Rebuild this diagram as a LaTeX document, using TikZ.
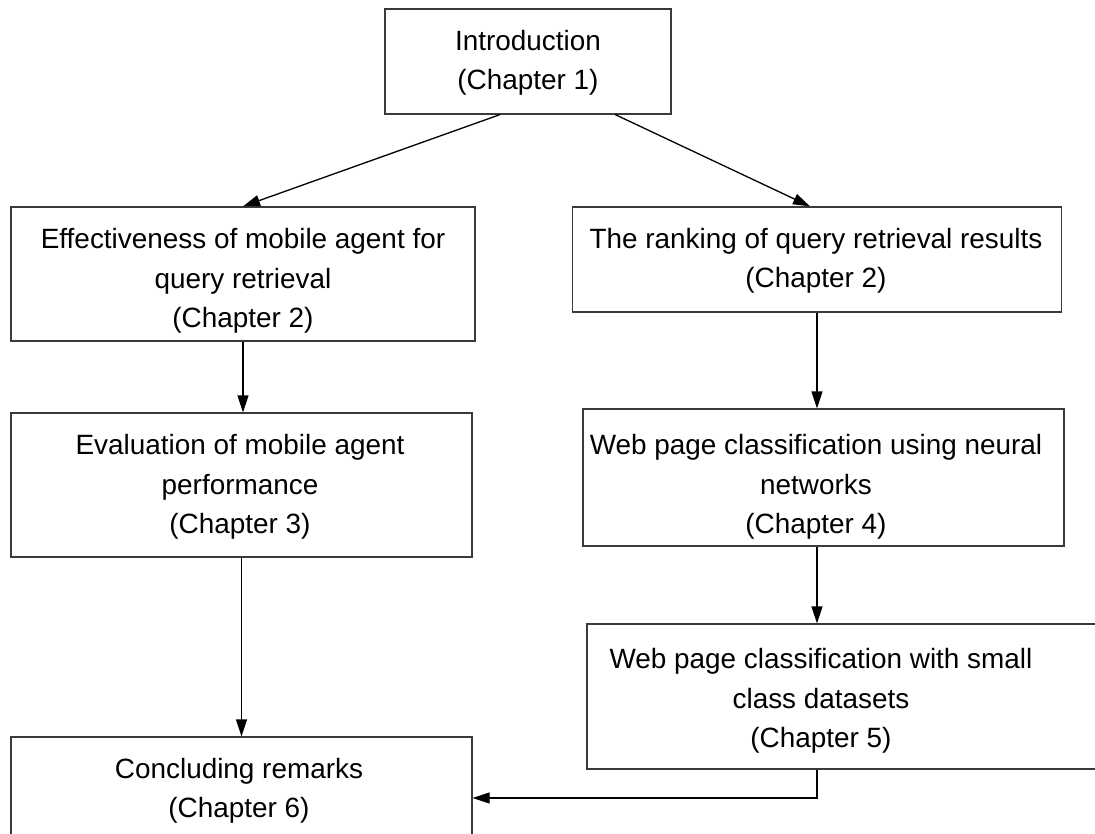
\documentclass[tikz,border=0pt]{standalone}
\usepackage{fontspec}
\setmainfont{Liberation Sans}
\usetikzlibrary{arrows.meta,calc}
\definecolor{boxline}{HTML}{3A3A3A}
\tikzset{
  box/.style={draw=boxline, line width=1.3pt, rectangle, inner sep=0pt},
  txt/.style={inner sep=0pt, align=center, font=\fontsize{27.9}{39.5}\selectfont},
  conn/.style={draw=black, line width=1.3pt, -{Triangle[length=17pt,width=11pt]}}
}
\begin{document}
\begin{tikzpicture}[x=1pt,y=-1pt]
\useasboundingbox (0,0) rectangle (1095,834);
\clip (0,0) rectangle (1095,834);
\fill[white] (0,0) rectangle (1095,834);
% frames
\node[box, minimum width=286pt, minimum height=105pt] (intro) at (528,61.5) {};
\node[box, minimum width=464pt, minimum height=134pt] (l1) at (243,274) {};
\node[box, minimum width=489pt, minimum height=105pt] (r1) at (817,259.5) {};
\node[box, minimum width=461pt, minimum height=144pt] (l2) at (241.5,485) {};
\node[box, minimum width=481pt, minimum height=137pt] (r2) at (823.5,477.5) {};
\node[box, minimum width=533pt, minimum height=145pt] (r3) at (853.5,696.5) {};
\node[box, minimum width=461pt, minimum height=122pt] (l3) at (241.5,798) {};
% texts
\node[txt] (tintro) at (528,63) {Introduction\\(Chapter 1)};
\node[txt] (tl1) at (243,281) {Effectiveness of mobile agent for\\query retrieval\\(Chapter 2)};
\node[txt] (tr1) at (816,261) {The ranking of query retrieval results\\(Chapter 2)};
\node[txt] (tl2) at (240,487) {Evaluation of mobile agent\\performance\\(Chapter 3)};
\node[txt] (tr2) at (816,487) {Web page classification using neural\\networks\\(Chapter 4)};
\node[txt] (tr3) at (821,701) {Web page classification with small\\class datasets\\(Chapter 5)};
\node[txt] (tl3) at (239,791) {Concluding remarks\\(Chapter 6)};
% connectors
\draw[conn] ($(intro.south west)!0.402!(intro.south east)$) -- (l1.north);
\draw[conn] ($(intro.south west)!0.804!(intro.south east)$) -- ($(r1.north)+(-7,0)$);
\draw[conn] (l1.south) -- (l1.south |- l2.north);
\draw[conn] (l2.south) -- (l2.south |- l3.north);
\draw[conn] (r1.south) -- (r1.south |- r2.north);
\draw[conn] (r1.south |- r2.south) -- (r1.south |- r3.north);
\draw[conn] (r1.south |- r3.south) |- (l3.east);
\end{tikzpicture}
\end{document}
